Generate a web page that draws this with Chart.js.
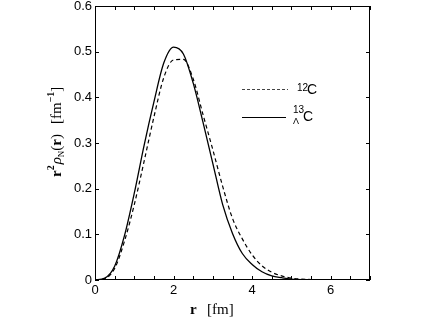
<!DOCTYPE html>
<html><head><meta charset="utf-8">
<script src="https://cdn.jsdelivr.net/npm/chart.js@4"></script>
<style>html,body{margin:0;padding:0;background:#fff}canvas{display:block}</style>
</head><body>
<canvas id="c" width="427" height="320"></canvas>
<script>
// radius grid [fm]
const r = [0,0.25,0.5,0.75,1,1.25,1.5,1.75,2,2.25,2.5,2.75,3,3.25,3.5,3.75,4,4.25,4.5,4.75,5,5.5,6,6.5,7];
// r^2 rho_N(r) for 12C (dashed)
const c12 = [0,0.003,0.025,0.085,0.165,0.26,0.357,0.443,0.482,0.483,0.44,0.362,0.285,0.205,0.135,0.09,0.055,0.031,0.017,0.009,0.004,0.001,0,0,0];
// r^2 rho_N(r) for Lambda-13C (solid)
const lc13 = [0,0.004,0.03,0.097,0.19,0.295,0.39,0.475,0.51,0.495,0.431,0.345,0.255,0.165,0.102,0.058,0.034,0.018,0.009,0.005,0.002,0.0005,0,0,0];
const xTicks = [0,2,4,6];
const xMinor = [0,0.5,1,1.5,2,2.5,3,3.5,4,4.5,5,5.5,6,6.5,7];
const yTicks = [0,0.1,0.2,0.3,0.4,0.5,0.6];

const SANS = '"Liberation Sans", Arial, sans-serif';
const SERIF = '"Liberation Serif", "DejaVu Serif", serif';

const deco = {
  id: 'deco',
  afterDraw(chart) {
    const ctx = chart.ctx, a = chart.chartArea;
    const xs = chart.scales.x, ys = chart.scales.y;
    ctx.save();
    ctx.strokeStyle = '#000'; ctx.lineWidth = 1; ctx.setLineDash([]);
    ctx.strokeRect(a.left + 0.5, a.top + 0.5, a.right - a.left - 1, a.bottom - a.top - 1);
    const tl = 4;
    ctx.beginPath();
    xMinor.forEach(v => {
      const px = Math.round(xs.getPixelForValue(v)) + 0.5;
      ctx.moveTo(px, a.bottom); ctx.lineTo(px, a.bottom - tl);
      ctx.moveTo(px, a.top); ctx.lineTo(px, a.top + tl);
    });
    yTicks.forEach(v => {
      const py = Math.round(ys.getPixelForValue(v)) + 0.5;
      ctx.moveTo(a.left, py); ctx.lineTo(a.left + tl, py);
      ctx.moveTo(a.right, py); ctx.lineTo(a.right - tl, py);
    });
    ctx.stroke();

    // legend
    ctx.lineWidth = 1.1;
    ctx.strokeStyle = '#444';
    ctx.setLineDash([3, 2]);
    ctx.beginPath(); ctx.moveTo(242, 89.5); ctx.lineTo(288, 89.5); ctx.stroke();
    ctx.setLineDash([]);
    ctx.strokeStyle = '#000';
    ctx.beginPath(); ctx.moveTo(242, 117.5); ctx.lineTo(286, 117.5); ctx.stroke();
    ctx.fillStyle = '#000';
    ctx.textBaseline = 'alphabetic'; ctx.textAlign = 'left';
    ctx.font = '10px ' + SANS; ctx.fillText('12', 297, 91);
    ctx.font = '14px ' + SANS; ctx.fillText('C', 307, 94);
    ctx.font = '10px ' + SANS; ctx.fillText('13', 293, 113);
    ctx.font = '9px ' + SANS; ctx.fillText('Λ', 293, 124);
    ctx.font = '14px ' + SANS; ctx.fillText('C', 303, 121);

    // x title
    ctx.font = 'bold 15px ' + SERIF; ctx.fillText('r', 190, 314);
    ctx.font = '15px ' + SERIF; ctx.fillText('[fm]', 207, 314);

    // y title (rotated)
    ctx.translate(61, 177);
    ctx.rotate(-Math.PI / 2);
    let x = 0;
    const put = (t, f, dy) => { ctx.font = f; ctx.fillText(t, x, dy); x += ctx.measureText(t).width; };
    put('r', 'bold 15px ' + SERIF, 0);
    put('2', 'bold 10px ' + SERIF, -7);
    x += 1;
    put('ρ', 'italic 15px ' + SERIF, 0);
    put('N', '9px ' + SERIF, 3);
    put('(', '15px ' + SERIF, 0);
    put('r', 'bold 15px ' + SERIF, 0);
    put(')', '15px ' + SERIF, 0);
    x += 10;
    put('[fm', '15px ' + SERIF, 0);
    put('−1', 'bold 10px ' + SERIF, -7);
    put(']', '15px ' + SERIF, 0);
    ctx.restore();
  }
};

new Chart(document.getElementById('c'), {
  type: 'line',
  data: {
    datasets: [
      { label: '12C', data: r.map((v, i) => ({x: v, y: c12[i]})), borderColor: '#000', borderWidth: 1.2, borderDash: [4, 3], pointRadius: 0, cubicInterpolationMode: 'monotone', fill: false },
      { label: 'Λ13C', data: r.map((v, i) => ({x: v, y: lc13[i]})), borderColor: '#000', borderWidth: 1.3, pointRadius: 0, cubicInterpolationMode: 'monotone', fill: false }
    ]
  },
  options: {
    responsive: false, animation: false, devicePixelRatio: 1,
    layout: { padding: { left: 55, right: 57, top: 6, bottom: 0 } },
    plugins: { legend: { display: false }, tooltip: { enabled: false } },
    scales: {
      x: {
        type: 'linear', min: 0, max: 7,
        afterBuildTicks: s => { s.ticks = xTicks.map(v => ({value: v})); },
        ticks: { font: { family: SANS, size: 13 }, color: '#000', padding: 3, maxRotation: 0, callback: v => String(v) },
        grid: { display: false, drawTicks: false }, border: { display: false },
        afterFit: s => { s.height = 40; s.paddingLeft = 0; s.paddingRight = 0; }
      },
      y: {
        min: 0, max: 0.6,
        afterBuildTicks: s => { s.ticks = yTicks.map(v => ({value: v})); },
        ticks: { font: { family: SANS, size: 13 }, color: '#000', padding: 3, callback: v => String(Math.round(v * 10) / 10) },
        grid: { display: false, drawTicks: false }, border: { display: false },
        afterFit: s => { s.width = 40; s.paddingTop = 0; s.paddingBottom = 0; }
      }
    }
  },
  plugins: [deco]
});
</script>
</body></html>
